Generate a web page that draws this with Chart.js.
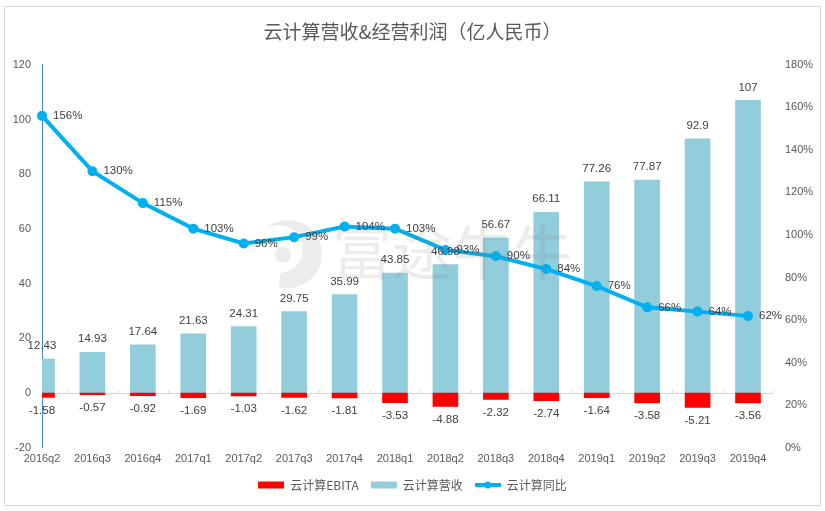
<!DOCTYPE html>
<html>
<head>
<meta charset="utf-8">
<script src="https://cdn.jsdelivr.net/npm/chart.js@4"></script>
<style>
  html, body { margin: 0; padding: 0; background: #fff; }
  #wrap { width: 825px; height: 511px; }
</style>
</head>
<body>
<div id="wrap"><canvas id="myChart" width="825" height="511"></canvas></div>
<script>
'use strict'

const categories = ['2016q2','2016q3','2016q4','2017q1','2017q2','2017q3','2017q4','2018q1','2018q2','2018q3','2018q4','2019q1','2019q2','2019q3','2019q4']
const ebita = [-1.58,-0.57,-0.92,-1.69,-1.03,-1.62,-1.81,-3.53,-4.88,-2.32,-2.74,-1.64,-3.58,-5.21,-3.56]
const revenue = [12.43,14.93,17.64,21.63,24.31,29.75,35.99,43.85,46.98,56.67,66.11,77.26,77.87,92.9,107]
const growth = [156,130,115,103,96,99,104,103,93,90,84,76,66,64,62]

const latin = '"Liberation Sans", "Noto Sans CJK SC", sans-serif'
const cjk = '"Noto Sans CJK SC", sans-serif'
const textColor = '#404040'
const axisColor = '#595959'

// legend swatches, the chart's point style accepts a canvas
const swatch = (draw) => {
  const c = document.createElement('canvas')
  c.width = 26
  c.height = 12
  draw(c.getContext('2d'))
  return c
}
const redSwatch = swatch((g) => { g.fillStyle = '#ff0000'; g.fillRect(0, 2.5, 26, 7) })
const blueSwatch = swatch((g) => { g.fillStyle = '#92cddc'; g.fillRect(0, 2.5, 26, 7) })
const lineSwatch = swatch((g) => {
  g.strokeStyle = g.fillStyle = '#00b0f0'
  g.lineWidth = 4
  g.beginPath(); g.moveTo(0, 6); g.lineTo(26, 6); g.stroke()
  g.beginPath(); g.arc(13, 6, 3.5, 0, Math.PI * 2); g.fill()
})
const swatches = [redSwatch, blueSwatch, lineSwatch]

const framePlugin = {
  id: 'frame',
  beforeDraw(chart) {
    const g = chart.ctx
    g.save()
    g.fillStyle = '#fff'
    g.fillRect(0, 0, chart.width, chart.height)
    g.strokeStyle = '#d9d9d9'
    g.lineWidth = 1
    g.strokeRect(4.5, 6.5, 816, 499)
    g.restore()
  },
  beforeDatasetsDraw(chart) {
    // zero line runs half a category past the last label, with little ticks between categories
    const g = chart.ctx
    const x = chart.scales.x
    const y0 = Math.round(chart.scales.y.getPixelForValue(0)) + 0.5
    const step = x.getPixelForValue(1) - x.getPixelForValue(0)
    g.save()
    g.strokeStyle = '#d9d9d9'
    g.lineWidth = 1
    g.beginPath()
    g.moveTo(x.left, y0)
    g.lineTo(x.right + step / 2, y0)
    categories.forEach((c, i) => {
      const tx = Math.round(x.getPixelForValue(i) + step / 2) + 0.5
      g.moveTo(tx, y0)
      g.lineTo(tx, y0 - 3)
    })
    g.stroke()
    g.restore()
  }
}

const labelsPlugin = {
  id: 'valueLabels',
  afterDatasetsDraw(chart) {
    const g = chart.ctx
    const x = chart.scales.x
    const y = chart.scales.y
    const y1 = chart.scales.y1
    g.save()
    g.font = '11.5px ' + latin
    g.fillStyle = textColor
    g.textBaseline = 'middle'
    g.textAlign = 'center'
    categories.forEach((c, i) => {
      g.fillText(String(revenue[i]), x.getPixelForValue(i), y.getPixelForValue(revenue[i]) - 13)
      g.fillText(String(ebita[i]), x.getPixelForValue(i), y.getPixelForValue(ebita[i]) + 13)
    })
    g.textAlign = 'left'
    categories.forEach((c, i) => {
      g.fillText(growth[i] + '%', x.getPixelForValue(i) + 11, y1.getPixelForValue(growth[i]))
    })
    g.restore()
  },
  afterDraw(chart) {
    // faint watermark
    const g = chart.ctx
    g.save()
    g.fillStyle = 'rgba(120,120,120,0.14)'
    g.beginPath()
    g.arc(288, 254, 34, -2.75, 1.85)
    g.arc(279, 249, 24, 1.5, -2.5, true)
    g.closePath()
    g.fill()
    g.beginPath()
    g.arc(283, 255, 8, 0, Math.PI * 2)
    g.fill()
    g.font = '60px ' + cjk
    g.textAlign = 'left'
    g.textBaseline = 'middle'
    g.fillText('富途牛牛', 332, 252)
    g.restore()
  }
}

new Chart(document.getElementById('myChart'), {
  data: {
    labels: categories,
    datasets: [
      { type: 'line', label: '云计算同比', data: growth, yAxisID: 'y1', order: 1, clip: false,
        borderColor: '#00b0f0', backgroundColor: '#00b0f0', borderWidth: 4, pointRadius: 3, tension: 0 },
      { type: 'bar', label: '云计算EBITA', data: ebita, yAxisID: 'y', order: 2, barThickness: 25,
        backgroundColor: '#ff0000', clip: { left: 0, top: 0, right: 30, bottom: 0 } },
      { type: 'bar', label: '云计算营收', data: revenue, yAxisID: 'y', order: 3, barThickness: 25,
        backgroundColor: '#92cddc', clip: { left: 0, top: 0, right: 30, bottom: 0 } }
    ]
  },
  plugins: [framePlugin, labelsPlugin],
  options: {
    responsive: false,
    animation: false,
    layout: { padding: { top: 8, bottom: 10 } },
    plugins: {
      tooltip: { enabled: false },
      title: {
        display: true,
        text: '云计算营收&经营利润（亿人民币）',
        color: axisColor,
        font: { family: cjk, size: 19, weight: 'normal' },
        padding: { top: 12, bottom: 22 }
      },
      legend: {
        position: 'bottom',
        labels: {
          color: axisColor,
          font: { family: cjk, size: 12 },
          usePointStyle: true,
          pointStyleWidth: 26,
          boxHeight: 12,
          padding: 12,
          generateLabels: () => [1, 2, 0].map((d, i) => ({
            text: ['云计算EBITA', '云计算营收', '云计算同比'][i],
            pointStyle: swatches[i],
            datasetIndex: d,
            fontColor: axisColor
          }))
        }
      }
    },
    scales: {
      x: {
        stacked: true,
        offset: false,
        afterFit: (s) => { s.height += 4 },
        grid: { display: false },
        border: { display: false },
        ticks: { color: axisColor, font: { family: latin, size: 11 }, maxRotation: 0, autoSkip: false, padding: -3 }
      },
      y: {
        stacked: true,
        min: -20,
        max: 120,
        afterFit: (s) => { s.width = 42 },
        grid: { display: false, drawTicks: false },
        border: { display: true, color: '#4a86c8', width: 1 },
        ticks: { stepSize: 20, color: axisColor, font: { family: latin, size: 11 }, padding: 11 }
      },
      y1: {
        position: 'right',
        min: 0,
        max: 180,
        afterFit: (s) => { s.width = 77 },
        grid: { display: false, drawTicks: false },
        border: { display: false },
        ticks: { stepSize: 20, color: axisColor, font: { family: latin, size: 11 }, padding: 37, callback: (v) => v + '%' }
      }
    }
  }
})
</script>
</body>
</html>
